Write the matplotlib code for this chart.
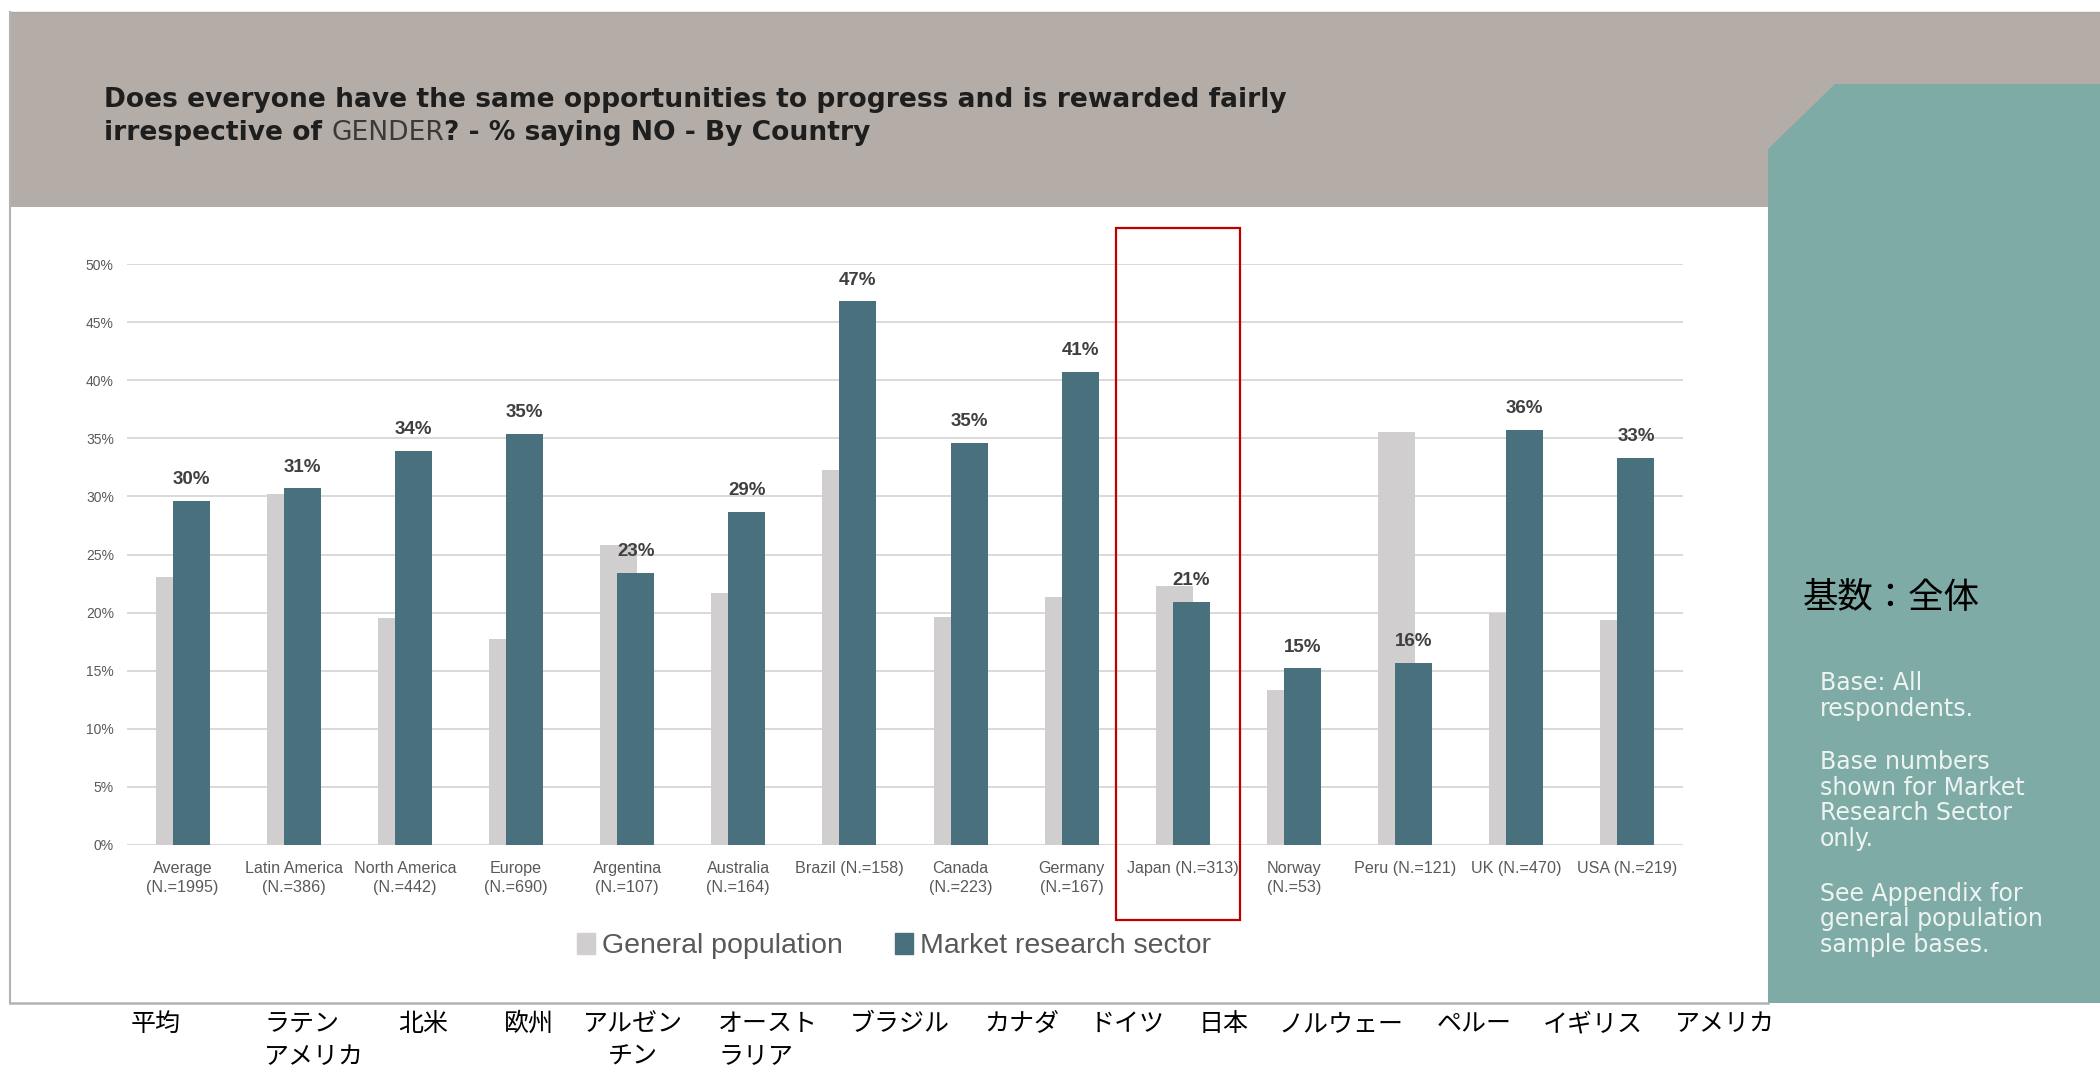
import matplotlib
matplotlib.use("Agg")
import matplotlib.pyplot as plt
from matplotlib.patches import Rectangle, Polygon
import numpy as np

# ---- data ----
categories = ["Average\n(N.=1995)", "Latin America\n(N.=386)", "North America\n(N.=442)",
              "Europe\n(N.=690)", "Argentina\n(N.=107)", "Australia\n(N.=164)", "Brazil (N.=158)",
              "Canada\n(N.=223)", "Germany\n(N.=167)", "Japan (N.=313)", "Norway\n(N.=53)",
              "Peru (N.=121)", "UK (N.=470)", "USA (N.=219)"]
gen_pop = [23.1, 30.2, 19.5, 17.7, 25.8, 21.7, 32.3, 19.6, 21.3, 22.3, 13.3, 35.5, 20.0, 19.4]
mr_sector = [29.6, 30.7, 33.9, 35.4, 23.4, 28.7, 46.8, 34.6, 40.7, 20.9, 15.2, 15.7, 35.7, 33.3]
series_names = ["General population", "Market research sector"]
jp_labels = ["平均", "ラテン\nアメリカ", "北米", "欧州", "アルゼン\nチン", "オースト\nラリア", "ブラジル",
             "カナダ", "ドイツ", "日本", "ノルウェー", "ペルー", "イギリス", "アメリカ"]
yticks = list(range(0, 51, 5))

# ---- layout / style ----
W, H = 2100, 1066
HEADER = "#b4ada7"
PANEL = "#7eaba6"
GRAY_BAR = "#d0cecf"
TEAL_BAR = "#48707d"
GRID = "#d9d9d9"
TXT = "#595959"
JP_FONT = ["Noto Sans CJK JP", "DejaVu Sans"]
jp_left = [131, 264, 398, 504, 583, 718, 850, 984, 1090, 1199, 1279, 1437, 1543, 1675]
jp_multi = ["left", "left", "left", "left", "center", "left", "left",
            "left", "left", "left", "left", "left", "left", "left"]

fig = plt.figure(figsize=(W / 100, H / 100), dpi=100)
fig.patch.set_facecolor("white")

# background layer in pixel coordinates
bg = fig.add_axes([0, 0, 1, 1], zorder=0)
bg.set_xlim(0, W); bg.set_ylim(H, 0); bg.axis("off")
bg.add_patch(Rectangle((10, 12), W - 10, 195, facecolor=HEADER, edgecolor="none"))
bg.plot([10, W], [12, 12], color="#a9a9a9", lw=1)
bg.add_patch(Polygon([(1768, 1003), (1768, 149), (1835, 84), (W, 84), (W, 1003)],
                     closed=True, facecolor=PANEL, edgecolor="none"))
bg.plot([10, 10], [12, 1003], color="#b3b3b3", lw=1.5)
bg.plot([10, 1768], [1003, 1003], color="#b3b3b3", lw=1.8)

# title, second line mixes weights
renderer = fig.canvas.get_renderer()
tfont = dict(family="DejaVu Sans", fontsize=19.1, color="#1e1e1e")
bg.text(104, 107, "Does everyone have the same opportunities to progress and is rewarded fairly",
        va="baseline", ha="left", fontweight="bold", **tfont)
sp_a = bg.text(0, 0, "a a", fontweight="bold", **tfont)
sp_b = bg.text(0, 0, "aa", fontweight="bold", **tfont)
space_w = sp_a.get_window_extent(renderer).width - sp_b.get_window_extent(renderer).width
sp_a.remove(); sp_b.remove()
x = 104
pieces = [("irrespective of", "bold", "#1e1e1e", space_w), ("GENDER", "normal", "#3a3a3a", 0),
          ("? - % saying NO - By Country", "bold", "#1e1e1e", 0)]
for s, wt, col, gap in pieces:
    t = bg.text(x, 140, s, va="baseline", ha="left", family="DejaVu Sans", fontsize=19.1,
                fontweight=wt, color=col)
    x += t.get_window_extent(renderer).width + gap

# side panel texts (y = baseline of each block's last line)
bg.text(1803, 598, "基数：全体", va="center", ha="left", fontsize=25.5,
        family=JP_FONT, color="black")
notes = [("Base: All\nrespondents.", 716),
         ("Base numbers\nshown for Market\nResearch Sector\nonly.", 846),
         ("See Appendix for\ngeneral population\nsample bases.", 952)]
for s, yb in notes:
    bg.text(1820, yb, s, va="baseline", ha="left", family="DejaVu Sans", fontsize=17,
            color="#eef4f1", linespacing=1.08)

# Japanese category names under the chart
for lbl, xl, ma in zip(jp_labels, jp_left, jp_multi):
    bg.text(xl, 1011, lbl, va="top", ha="left", multialignment=ma, fontsize=18,
            family=JP_FONT, color="black", linespacing=1.33)

# ---- bar chart ----
ax = fig.add_axes([127 / W, (H - 845) / H, 1556 / W, 581 / H], zorder=1)
ax.patch.set_visible(False)
xs = np.arange(len(categories))
off, bw = 0.077, 0.333
ax.bar(xs - off, gen_pop, bw, color=GRAY_BAR, zorder=2)
ax.bar(xs + off, mr_sector, bw, color=TEAL_BAR, zorder=3)
for xi, v in zip(xs, mr_sector):
    ax.annotate(f"{v:.0f}%", (xi + off, v), xytext=(0, 12), textcoords="offset points",
                ha="center", va="baseline", fontsize=13.5, fontweight="bold",
                family="Liberation Sans", color="#404040")

ax.set_xlim(-0.5, len(categories) - 0.5)
ax.set_ylim(0, 50)
ax.set_yticks(yticks)
ax.set_yticklabels([f"{t}%" for t in yticks], family="Liberation Sans", fontsize=10, color=TXT)
ax.set_xticks(xs)
ax.set_xticklabels(categories, family="Liberation Sans", fontsize=11.6, color=TXT, linespacing=1.35)
ax.tick_params(axis="y", length=0, pad=9.5)
ax.tick_params(axis="x", length=0, pad=11.5)
ax.grid(axis="y", color=GRID, lw=1.4, zorder=0)
ax.set_axisbelow(True)
for s in ax.spines.values():
    s.set_visible(False)

handles = [Rectangle((0, 0), 1, 1, color=GRAY_BAR), Rectangle((0, 0), 1, 1, color=TEAL_BAR)]
fig.legend(handles, series_names, loc="center", bbox_to_anchor=(894 / W, 1 - 946 / H), ncol=2,
           frameon=False, prop=dict(family="Liberation Sans", size=20.5), labelcolor=TXT,
           handlelength=0.63, handleheight=0.75, handletextpad=0.25, columnspacing=1.83)

# highlight box around Japan
ax.add_patch(Rectangle((1116, 228), 124, 692, transform=bg.transData, clip_on=False,
                       fill=False, edgecolor="#c00000", lw=1.6, zorder=6))

fig.savefig("out.png", dpi=100)
